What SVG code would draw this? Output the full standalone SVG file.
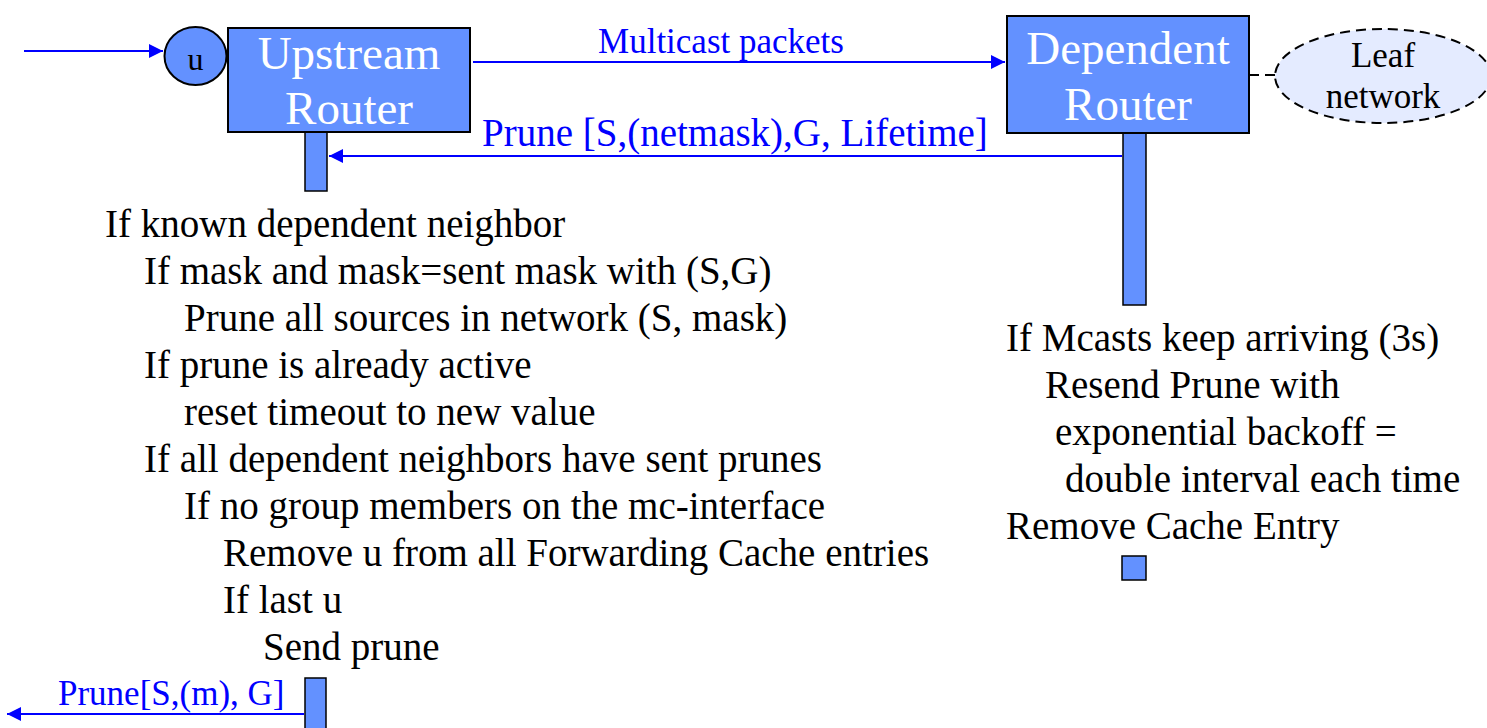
<svg xmlns="http://www.w3.org/2000/svg" width="1487" height="728" viewBox="0 0 1487 728">
<style>
.box{fill:#6391FF;stroke:#000;stroke-width:2}
.stem{fill:#6391FF;stroke:#000;stroke-width:1.5}
.wt{font-family:"Liberation Serif",serif;fill:#fff;font-size:47px;text-anchor:middle}
.bt{font-family:"Liberation Serif",serif;fill:#000;font-size:39px}
.bl{font-family:"Liberation Serif",serif;fill:#0000FF}
.arr{stroke:#0000FF;stroke-width:2;fill:none}
</style>
<defs>
<marker id="ah" viewBox="0 0 14 14" refX="14" refY="7" markerWidth="14" markerHeight="14" markerUnits="userSpaceOnUse" orient="auto">
<path d="M0,0 L14,7 L0,14 Z" fill="#0000FF"/>
</marker>
</defs>
<rect width="1487" height="728" fill="#fff"/>
<g id="connectors">
<line class="arr" x1="24" y1="51" x2="163" y2="51" marker-end="url(#ah)"/>
<line class="arr" x1="473" y1="62" x2="1005" y2="62" marker-end="url(#ah)"/>
<line class="arr" x1="1122" y1="156" x2="329" y2="156" marker-end="url(#ah)"/>
<line class="arr" x1="304" y1="714" x2="7" y2="714" marker-end="url(#ah)"/>
<line x1="1249" y1="75" x2="1275" y2="75" stroke="#000" stroke-width="2" stroke-dasharray="10,6"/>
<text class="bl" x="721" y="53" font-size="35" text-anchor="middle">Multicast packets</text>
<text class="bl" x="482" y="146" font-size="39">Prune [S,(netmask),G, Lifetime]</text>
<text class="bl" x="58" y="705" font-size="35">Prune[S,(m), G]</text>
</g>
<g id="u">
<ellipse cx="195.5" cy="56" rx="31" ry="29" fill="#6391FF" stroke="#000" stroke-width="2"/>
<text x="195.5" y="70" font-family="Liberation Serif,serif" font-size="32" text-anchor="middle">u</text>
</g>
<g id="upstream">
<rect class="stem" x="305" y="132" width="22" height="59"/>
<rect class="box" x="228" y="28" width="242" height="104"/>
<text class="wt" x="349" y="69">Upstream</text>
<text class="wt" x="349" y="124">Router</text>
</g>
<g id="upstream-bottom">
<rect class="stem" x="305" y="678" width="21" height="52"/>
</g>
<g id="dependent">
<rect class="stem" x="1123" y="133" width="23" height="172"/>
<rect class="box" x="1007" y="16" width="242" height="117"/>
<text class="wt" x="1128" y="64">Dependent</text>
<text class="wt" x="1128" y="120">Router</text>
</g>
<g id="dependent-bottom">
<rect class="stem" x="1122" y="556" width="24" height="24"/>
</g>
<g id="leaf">
<ellipse cx="1383" cy="76" rx="108" ry="47" fill="#E4EBFF" stroke="#000" stroke-width="2" stroke-dasharray="10,6"/>
<text x="1383" y="67" font-family="Liberation Serif,serif" font-size="35" text-anchor="middle">Leaf</text>
<text x="1383" y="108" font-family="Liberation Serif,serif" font-size="35" text-anchor="middle">network</text>
</g>
<g id="upstream-logic">
<text class="bt" x="105" y="237">If known dependent neighbor</text>
<text class="bt" x="144" y="284">If mask and mask=sent mask with (S,G)</text>
<text class="bt" x="184" y="331">Prune all sources in network (S, mask)</text>
<text class="bt" x="144" y="378">If prune is already active</text>
<text class="bt" x="184" y="425">reset timeout to new value</text>
<text class="bt" x="144" y="472">If all dependent neighbors have sent prunes</text>
<text class="bt" x="184" y="519">If no group members on the mc-interface</text>
<text class="bt" x="223" y="566">Remove u from all Forwarding Cache entries</text>
<text class="bt" x="223" y="613">If last u</text>
<text class="bt" x="263" y="660">Send prune</text>
</g>
<g id="dependent-logic">
<text class="bt" x="1006" y="351">If Mcasts keep arriving (3s)</text>
<text class="bt" x="1045" y="398">Resend Prune with</text>
<text class="bt" x="1055" y="445">exponential backoff =</text>
<text class="bt" x="1065" y="492">double interval each time</text>
<text class="bt" x="1006" y="539">Remove Cache Entry</text>
</g>
</svg>
